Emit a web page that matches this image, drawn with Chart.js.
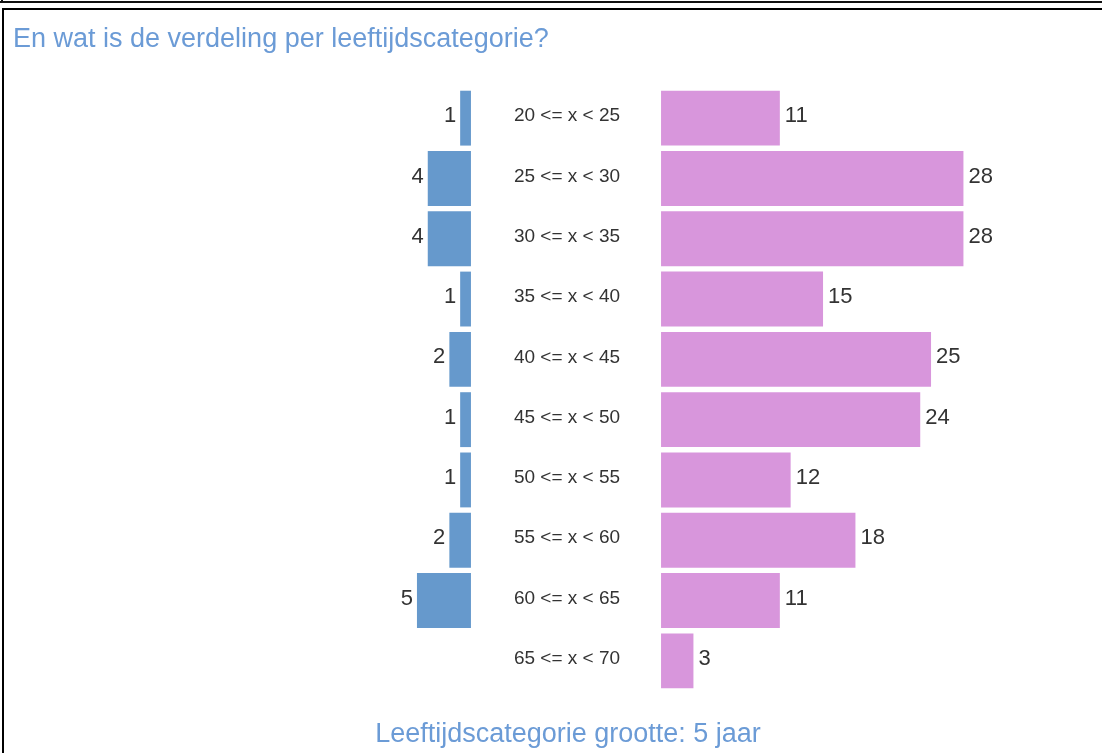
<!DOCTYPE html>
<html>
<head>
<meta charset="utf-8">
<script src="https://cdn.jsdelivr.net/npm/chart.js@4"></script>
<style>
  html, body { margin: 0; background: #fff; overflow: hidden; font-family: "Liberation Sans", Arial, sans-serif; }
  #wrap { position: relative; width: 1102px; height: 753px; overflow: hidden; }
  .line { position: absolute; background: #111; }
  #box { position: absolute; top: 8px; left: 2px; width: 1300px; height: 900px; border-top: 2px solid #000; border-left: 2px solid #000; }
  .txt { position: absolute; color: #6b9bd6; font-size: 27px; line-height: 27px; white-space: nowrap; }
  #title { left: 13px; top: 25px; }
  #footer { left: 0; width: 1136px; text-align: center; top: 720px; }
  canvas { position: absolute; left: 0; top: 0; }
</style>
</head>
<body>
<div id="wrap">
  <div class="line" style="top:1px;left:0;width:1102px;height:2px"></div>
  <div class="line" style="top:0;left:1px;width:2px;height:3px"></div>
  <div id="box"></div>
  <canvas id="chart" width="1102" height="753"></canvas>
  <div id="title" class="txt">En wat is de verdeling per leeftijdscategorie?</div>
  <div id="footer" class="txt">Leeftijdscategorie grootte: 5 jaar</div>
</div>
<script>
// Age brackets, top to bottom
const categories = [
  '20 <= x < 25', '25 <= x < 30', '30 <= x < 35', '35 <= x < 40', '40 <= x < 45',
  '45 <= x < 50', '50 <= x < 55', '55 <= x < 60', '60 <= x < 65', '65 <= x < 70',
];
// Left side (blue) and right side (pink) counts
const leftValues = [1, 4, 4, 1, 2, 1, 1, 2, 5, 0];
const rightValues = [11, 28, 28, 15, 25, 24, 12, 18, 11, 3];

// half of the empty middle column, in value units
const GAP = 8.8;

const labelPlugin = {
  id: 'pyramidLabels',
  afterDatasetsDraw(chart) {
    const { ctx } = chart;
    const { x, y } = chart.scales;
    ctx.save();
    ctx.textBaseline = 'middle';
    ctx.fillStyle = '#333';

    // category labels in the middle
    ctx.font = '19px "Liberation Sans", Arial, sans-serif';
    ctx.textAlign = 'center';
    categories.forEach((c, i) => {
      ctx.fillText(c, x.getPixelForValue(0) + 1, y.getPixelForValue(i) - 2);
    });

    // value labels
    ctx.font = '22px "Liberation Sans", Arial, sans-serif';
    ctx.textAlign = 'right';
    leftValues.forEach((v, i) => {
      if (!v) return;
      ctx.fillText(v, x.getPixelForValue(-GAP - v) - 4, y.getPixelForValue(i) - 2);
    });
    ctx.textAlign = 'left';
    rightValues.forEach((v, i) => {
      if (!v) return;
      ctx.fillText(v, x.getPixelForValue(GAP + v) + 5, y.getPixelForValue(i) - 2);
    });
    ctx.restore();
  },
};

new Chart(document.getElementById('chart'), {
  type: 'bar',
  data: {
    labels: categories,
    datasets: [
      {
        data: leftValues.map((v) => (v ? [-GAP - v, -GAP] : null)),
        backgroundColor: '#6699cc',
        barPercentage: 0.91,
        categoryPercentage: 1,
        grouped: false,
      },
      {
        data: rightValues.map((v) => (v ? [GAP, GAP + v] : null)),
        backgroundColor: '#d896dc',
        barPercentage: 0.91,
        categoryPercentage: 1,
        grouped: false,
      },
    ],
  },
  options: {
    indexAxis: 'y',
    responsive: false,
    animation: false,
    layout: { padding: { left: 350, right: 104, top: 88, bottom: 62 } },
    scales: {
      x: { display: false, min: -20, max: 40 },
      y: { display: false },
    },
    plugins: {
      legend: { display: false },
      tooltip: { enabled: false },
    },
  },
  plugins: [labelPlugin],
});
</script>
</body>
</html>
